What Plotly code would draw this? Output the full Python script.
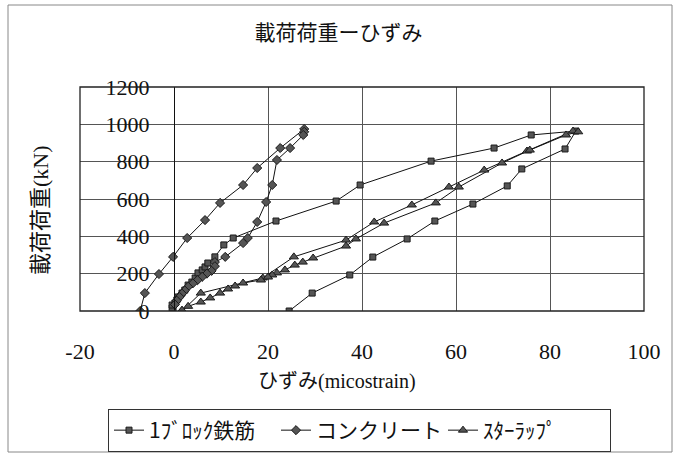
import plotly.graph_objects as go

# 1ﾌﾞﾛｯｸ鉄筋 (squares)
x1 = [-0.2, -0.4, -0.4, 0.2, 0.6, 0.85, 1.7, 2.3, 3.0, 3.8, 4.5, 5.1, 6.0, 6.6, 7.2, 8.7, 10.6, 12.6,
      21.7, 34.5, 39.6, 54.7, 68.1, 76.0, 85.5, 83.2, 74.0, 70.9, 63.6, 55.5, 49.6, 42.3, 37.4, 29.4, 24.5]
y1 = [0, 16, 32, 43, 59, 75, 96, 112, 139, 155, 177, 204, 220, 236, 257, 290, 354, 391,
      482, 589, 675, 803, 873, 943, 964, 868, 761, 670, 573, 482, 386, 289, 193, 96, 0]

# コンクリート (diamonds)
x2 = [-7.2, -6.2, -3.2, -0.2, 2.8, 6.6, 9.8, 14.7, 17.7, 22.6, 27.7, 27.7, 27.5, 24.7, 21.9, 20.9,
      19.6, 17.7, 15.7, 14.7, 10.9, 8.7, 8.7, 8.0, 7.0, 6.0, 5.0, 4.0, 3.0, 2.3, 1.7, 1.2, 0.6, 0.2]
y2 = [0, 96, 198, 290, 391, 487, 579, 675, 766, 873, 975, 960, 943, 873, 809, 675,
      584, 477, 391, 364, 290, 262, 240, 215, 200, 183, 165, 148, 130, 110, 93, 75, 55, 35]

# ｽﾀｰﾗｯﾌﾟ (triangles)
x3 = [1.7, 5.7, 18.9, 25.5, 36.6, 42.6, 50.6, 58.5, 66.0, 75.1, 84.9, 86.0, 83.4, 75.7, 69.8, 60.6,
      55.7, 44.7, 38.7, 36.6, 29.6, 27.4, 25.7, 23.6, 21.9, 20.9, 20.0, 18.5, 14.7, 13.0, 11.5, 9.8,
      7.7, 5.7, 3.0, 1.7]
y3 = [0, 96, 177, 290, 380, 477, 568, 664, 755, 857, 964, 960, 943, 862, 793, 664,
      579, 471, 386, 348, 284, 262, 246, 220, 204, 193, 182, 166, 150, 134, 118, 96,
      70, 48, 25, 5]

names = ["1ﾌﾞﾛｯｸ鉄筋", "コンクリート", "ｽﾀｰﾗｯﾌﾟ"]
x_ticks = [-20, 0, 20, 40, 60, 80, 100]
x_ticktext = ["-20", "0", "20", "40", "60", "80", "100"]
y_ticks = [0, 200, 400, 600, 800, 1000, 1200]

title_text = "載荷荷重ーひずみ"
xtitle_text = "ひずみ(micostrain)"
ytitle_text = "載荷荷重(kN)"

SERIF = "Liberation Serif"
MIXED = "Liberation Serif, Noto Sans CJK JP"
CJK = "Noto Sans CJK JP"

W, H = 677, 456
L, R, T, B = 80, 33, 87, 145
PW, PH = W - L - R, H - T - B


def px_x(p):
    return (p - L) / PW


def px_y(p):
    return (H - B - p) / PH


fig = go.Figure()
symbols = ["square", "diamond", "triangle-up"]
sizes = [6, 7, 8]
for xs, ys, nm, sym, sz in zip([x1, x2, x3], [y1, y2, y3], names, symbols, sizes):
    fig.add_trace(go.Scatter(
        x=xs, y=ys, name=nm, mode="lines+markers",
        line=dict(color="#111111", width=1),
        marker=dict(symbol=sym, size=sz, color="#555555", line=dict(color="#1a1a1a", width=1)),
    ))

fig.update_layout(
    width=W, height=H,
    margin=dict(l=L, r=R, t=T, b=B, autoexpand=False),
    paper_bgcolor="white", plot_bgcolor="white",
    showlegend=True,
    title=dict(text=title_text, x=0.5, xanchor="center", y=1 - 33 / H, yanchor="middle",
               xref="container", yref="container",
               font=dict(family=CJK, size=21, color="#111")),
    xaxis=dict(range=[-20, 100], tickvals=x_ticks, ticktext=x_ticktext, automargin=False,
               showgrid=True, gridcolor="#555", gridwidth=1, zeroline=False,
               showline=False, ticks="", ticklabelstandoff=25,
               tickfont=dict(family=SERIF, size=22, color="#111")),
    yaxis=dict(range=[0, 1200], tickvals=y_ticks, anchor="free", position=px_x(174), automargin=False,
               showgrid=True, gridcolor="#555", gridwidth=1, zeroline=False,
               showline=True, linecolor="#111", linewidth=1, ticks="", ticklabelstandoff=20,
               tickfont=dict(family=SERIF, size=22, color="#111")),
    legend=dict(orientation="h", xref="container", yref="container",
                x=108 / W, xanchor="left", y=1 - 409 / H, yanchor="top",
                bordercolor="#333", borderwidth=1, bgcolor="white",
                font=dict(family=CJK, size=21, color="#111"), itemwidth=30,
                entrywidth=122, entrywidthmode="pixels"),
)

# plot area border
fig.add_shape(type="rect", xref="paper", yref="paper", x0=0, x1=1, y0=0, y1=1,
              line=dict(color="#222", width=1.3), layer="above")
# outer chart border
fig.add_shape(type="rect", xref="paper", yref="paper",
              x0=px_x(8), x1=px_x(672), y0=px_y(452), y1=px_y(5),
              line=dict(color="#888", width=1))

fig.add_annotation(text=xtitle_text, xref="paper", yref="paper",
                   x=px_x(337), y=px_y(381), showarrow=False,
                   xanchor="center", yanchor="middle",
                   font=dict(family=MIXED, size=20, color="#111"))
fig.add_annotation(text=ytitle_text, xref="paper", yref="paper",
                   x=px_x(40), y=px_y(210), showarrow=False, textangle=-90,
                   xanchor="center", yanchor="middle",
                   font=dict(family=MIXED, size=22, color="#111"))

fig.write_html("out.html", config={"displayModeBar": False},
               post_script="document.body.style.margin='0px';document.body.style.padding='0px';")
